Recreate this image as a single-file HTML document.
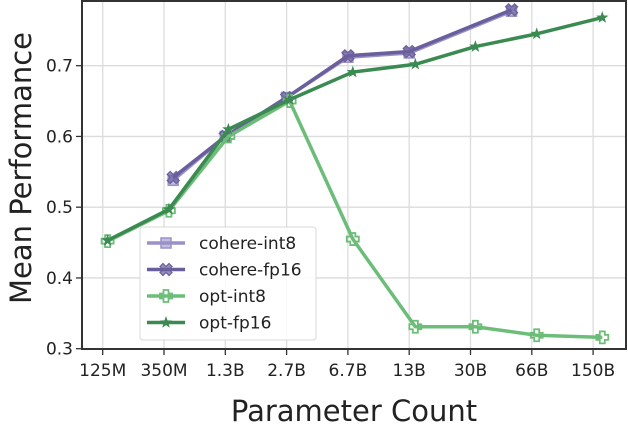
<!DOCTYPE html>
<html><head><meta charset="utf-8"><style>
body{margin:0;background:#fff;}
svg{display:block;font-family:"DejaVu Sans","Liberation Sans",sans-serif;}
</style></head><body>
<svg id="chart" width="628" height="426">
<g id="grid"></g>
<g id="series"></g>
<g id="axes"></g>
<text x="354" y="421" font-size="29" text-anchor="middle" fill="#222">Parameter Count</text>
<text transform="translate(31,168) rotate(-90)" font-size="29" text-anchor="middle" fill="#222">Mean Performance</text>
<g id="legend"></g>
</svg>
<script>
const categories=["125M","350M","1.3B","2.7B","6.7B","13B","30B","66B","150B"];
const yTicks=[0.3,0.4,0.5,0.6,0.7];
const cohereX=[1.15,2,3,4,5,6.67];
const cohereInt8=[0.538,0.600,0.655,0.712,0.718,0.777];
const cohereFp16=[0.542,0.600,0.655,0.714,0.720,0.779];
const optX=[0.08,1.08,2.05,3.05,4.08,5.1,6.08,7.08,8.15];
const optInt8=[0.452,0.495,0.600,0.650,0.455,0.331,0.331,0.319,0.316];
const optFp16=[0.453,0.497,0.610,0.652,0.691,0.702,0.727,0.745,0.768];
const L=82,R=626,T=1,B=349;
const xS=i=>102.7+i*61.3;
const yS=v=>348.7-(v-0.3)*707.5;
const NS="http://www.w3.org/2000/svg";
function mk(tag,attrs,parent){const e=document.createElementNS(NS,tag);for(const k in attrs)e.setAttribute(k,attrs[k]);parent.appendChild(e);return e;}
const grid=document.getElementById('grid'),axes=document.getElementById('axes'),series=document.getElementById('series'),legend=document.getElementById('legend');
categories.forEach((c,i)=>{
 const g=mk('line',{x1:xS(i),x2:xS(i),y1:T,y2:B,stroke:'#dcdcdc','stroke-width':1.3},grid);
 
 
 const t=mk('line',{x1:xS(i),x2:xS(i),y1:B,y2:B+6,stroke:'#333','stroke-width':1.3},axes);
 
 
 const l=mk('text',{x:xS(i),y:B+27,'font-size':17,'text-anchor':'middle',fill:'#222'},axes);
 l.textContent=c;
 
 
});
yTicks.forEach(v=>{
 const g=mk('line',{x1:L,x2:R,y1:yS(v),y2:yS(v),stroke:'#dcdcdc','stroke-width':1.3},grid);
 
 
 const t=mk('line',{x1:L-6,x2:L,y1:yS(v),y2:yS(v),stroke:'#333','stroke-width':1.3},axes);
 
 
 const l=mk('text',{x:L-9,y:yS(v)+6,'font-size':17,'text-anchor':'end',fill:'#222'},axes);
 l.textContent=v.toFixed(1);
 
 
});
const fr=mk('rect',{x:L,y:T,width:R-L,height:B-T,fill:'none',stroke:'#333','stroke-width':2},axes);


function marker(type,x,y,col,parent){
 let e;
 if(type==='square') e=mk('rect',{x:x-5,y:y-5,width:10,height:10,fill:col,stroke:col,'stroke-width':1.5,'fill-opacity':0.6},parent);
 else if(type==='x') e=mk('path',{d:`M${x-6} ${y-3}l3 -3l3 3l3 -3l3 3l-3 3l3 3l-3 3l-3 -3l-3 3l-3 -3l3 -3z`,fill:col,'fill-opacity':0.7,stroke:col,'stroke-width':1.2},parent);
 else if(type==='plus') e=mk('path',{d:`M${x-2.5} ${y-6}h5v3.5h3.5v5h-3.5v3.5h-5v-3.5h-3.5v-5h3.5z`,fill:'none',stroke:col,'stroke-width':1.8},parent);
 else {let p='';for(let k=0;k<10;k++){const r=k%2?2.6:6.5,a=-Math.PI/2+k*Math.PI/5;p+=(k?'L':'M')+(x+r*Math.cos(a)).toFixed(1)+' '+(y+r*Math.sin(a)).toFixed(1);}e=mk('path',{d:p+'Z',fill:col},parent);}
 return e;
}
const defs=[
 {name:'cohere-int8',xs:cohereX,vals:cohereInt8,col:'#9b91c9',m:'square'},
 {name:'cohere-fp16',xs:cohereX,vals:cohereFp16,col:'#6a5f9c',m:'x'},
 {name:'opt-int8',xs:optX,vals:optInt8,col:'#6cbd78',m:'plus'},
 {name:'opt-fp16',xs:optX,vals:optFp16,col:'#3a8a52',m:'star'}];
defs.forEach(s=>{
 const g=mk('g',{},series);
 
 
 const pts=s.vals.map((v,i)=>xS(s.xs[i])+','+yS(v)).join(' ');
 const pl=mk('polyline',{points:pts,fill:'none',stroke:s.col,'stroke-width':3.5,'stroke-linejoin':'round'},g);
 
 
 s.vals.forEach((v,i)=>{
  const m=marker(s.m,xS(s.xs[i]),yS(v),s.col,g);
  
  
 });
});
const lb=mk('rect',{x:140,y:227,width:176,height:113,rx:3,fill:'#fff','fill-opacity':0.85,stroke:'#d8d8d8'},legend);


defs.forEach((s,i)=>{
 const y=243+i*26.5;
 const g=mk('g',{},legend);
 
 
 mk('line',{x1:147,x2:185,y1:y,y2:y,stroke:s.col,'stroke-width':3.5},g);
 marker(s.m,166,y,s.col,g);
 const t=mk('text',{x:199,y:y+6,'font-size':17,fill:'#222'},g);
 t.textContent=s.name;
});
</script>
</body></html>
